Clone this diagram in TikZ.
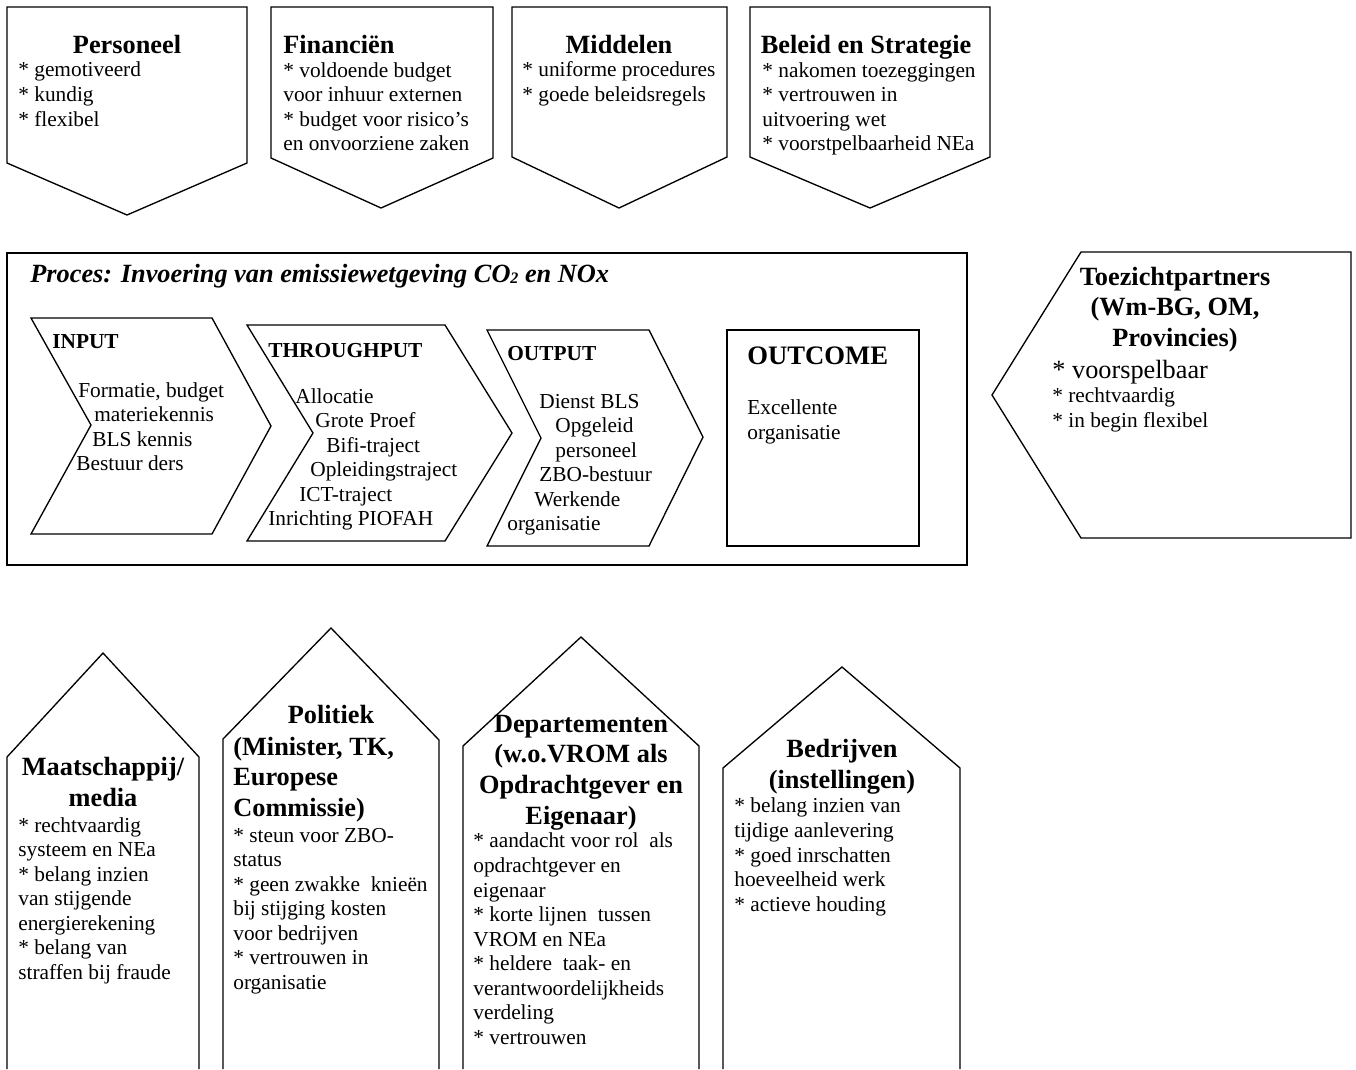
\documentclass[tikz,border=0pt]{standalone}
\usepackage{fontspec}
\setmainfont{Liberation Serif}
\begin{document}
\begin{tikzpicture}[x=0.5625pt,y=-0.5625pt,
  shp/.style={draw=black,line width=0.75pt,line join=miter},
  procbox/.style={draw=black,line width=1.3pt},
  body/.style={inner sep=0pt,align=left,font=\fontsize{12pt}{13.8pt}\selectfont},
  head/.style={inner sep=0pt,align=center,font=\bfseries\fontsize{14.8pt}{17.4pt}\selectfont},
  headl/.style={inner sep=0pt,align=left,font=\bfseries\fontsize{14.8pt}{17.4pt}\selectfont},
  small/.style={inner sep=0pt,font=\bfseries\fontsize{12pt}{13.8pt}\selectfont},
  bl/.style={anchor=base west},
  bc/.style={anchor=base}]
\useasboundingbox[fill=white] (0,0) rectangle (1356,1069);
% note: for multi-line nodes the base anchor is the baseline of the LAST line

% ---------- top row (pointing down) ----------
\draw[shp] (7,7) -- (247,7) -- (247,163) -- (127,215) -- (7,163) -- cycle;
\draw[shp] (271,7) -- (493,7) -- (493,158) -- (381,208) -- (271,158) -- cycle;
\draw[shp] (512,7) -- (727,7) -- (727,157) -- (619,208) -- (512,157) -- cycle;
\draw[shp] (750,7) -- (990,7) -- (990,157) -- (870,208) -- (750,157) -- cycle;

\node[head,bc] (personeelT) at (127,53) {Personeel};
\node[body,bl] (personeelL) at (18,126) {* gemotiveerd\\* kundig\\* flexibel};
\node[headl,bl] (financienT) at (283,53) {Financiën};
\node[body,bl] (financienL) at (283,150.6) {* voldoende budget\\voor inhuur externen\\* budget voor risico’s\\en onvoorziene zaken};
\node[head,bc] (middelenT) at (619,53) {Middelen};
\node[body,bl] (middelenL) at (522,101.5) {* uniforme procedures\\* goede beleidsregels};
\node[head,bc] (beleidT) at (866,53) {Beleid en Strategie};
\node[body,bl] (beleidL) at (762,150.6) {* nakomen toezeggingen\\* vertrouwen in\\uitvoering wet\\* voorstpelbaarheid NEa};

% ---------- process box ----------
\draw[procbox] (7,253) rectangle (967,565);
\node[inner sep=0pt,bl,font=\bfseries\itshape\fontsize{14.8pt}{17pt}\selectfont] (procT) at (30,282)
  {Proces: Invoering van emissiewetgeving CO{\fontsize{9pt}{9pt}\selectfont\raisebox{-1pt}{2}} en NOx};

% INPUT chevron
\draw[shp] (31,318) -- (212,318) -- (271,426) -- (212,534) -- (31,534) -- (91,425) -- cycle;
\node[small,bl] (inputT) at (52,348) {INPUT};
\node[body,bl] (in1) at (78,397) {Formatie, budget};
\node[body,bl] (in2) at (94,421.5) {materiekennis};
\node[body,bl] (in3) at (92,446) {BLS kennis};
\node[body,bl] (in4) at (76,470.5) {Bestuur ders};

% THROUGHPUT chevron
\draw[shp] (247,325) -- (445,325) -- (512,433) -- (445,541) -- (247,541) -- (313,433) -- cycle;
\node[small,bl] (throughT) at (268,357) {THROUGHPUT};
\node[body,bl] (th1) at (295,403) {Allocatie};
\node[body,bl] (th2) at (315,427.5) {Grote Proef};
\node[body,bl] (th3) at (326,452) {Bifi-traject};
\node[body,bl] (th4) at (310,476.5) {Opleidingstraject};
\node[body,bl] (th5) at (299,501) {ICT-traject};
\node[body,bl] (th6) at (268,525.5) {Inrichting PIOFAH};

% OUTPUT chevron
\draw[shp] (487,330) -- (649,330) -- (703,437) -- (649,546) -- (487,546) -- (541,438) -- cycle;
\node[small,bl] (outputT) at (507,360) {OUTPUT};
\node[body,bl] (ou1) at (539,408) {Dienst BLS};
\node[body,bl] (ou2) at (555,432.5) {Opgeleid};
\node[body,bl] (ou3) at (555,457) {personeel};
\node[body,bl] (ou4) at (539,481.5) {ZBO-bestuur};
\node[body,bl] (ou5) at (534,506) {Werkende};
\node[body,bl] (ou6) at (507,530.5) {organisatie};

% OUTCOME box
\draw[shp] (727,330) rectangle (919,546);
\node[inner sep=0pt,bl,font=\bfseries\fontsize{15pt}{17pt}\selectfont] (outcomeT) at (747,364) {OUTCOME};
\node[body,bl] (outcomeL) at (747,439.5) {Excellente\\organisatie};

% ---------- Toezichtpartners (pointing left) ----------
\draw[shp] (992,395) -- (1081,252) -- (1351,252) -- (1351,538) -- (1081,538) -- cycle;
\node[head,bc] (toezichtT) at (1175,346.9) {Toezichtpartners\\(Wm-BG, OM,\\Provincies)};
\node[inner sep=0pt,bl,font=\fontsize{14.8pt}{17pt}\selectfont] (tz1) at (1052,378) {* voorspelbaar};
\node[body,bl] (tz2) at (1052,427.5) {* rechtvaardig\\* in begin flexibel};

% ---------- bottom row (pointing up) ----------
\draw[shp] (7,1069) -- (7,757) -- (103,653) -- (199,757) -- (199,1069);
\draw[shp] (223,1069) -- (223,739) -- (331,628) -- (439,740) -- (439,1069);
\draw[shp] (463,1069) -- (463,746) -- (581,637) -- (699,746) -- (699,1069);
\draw[shp] (723,1069) -- (723,768) -- (842,667) -- (960,768) -- (960,1069);

\node[head,bc] (maatT) at (103,806.9) {Maatschappij/\\media};
\node[body,bl] (maatL) at (18,979.2) {* rechtvaardig\\systeem en NEa\\* belang inzien\\van stijgende\\energierekening\\* belang van\\straffen bij fraude};

\node[head,bc] (polT) at (331,723) {Politiek};
\node[headl,bl] (polT2) at (233,816.9) {(Minister, TK,\\Europese\\Commissie)};
\node[body,bl] (polL) at (233,989.2) {* steun voor ZBO-\\status\\* geen zwakke\ \ knieën\\bij stijging kosten\\voor bedrijven\\* vertrouwen in\\organisatie};

\node[head,bc] (depT) at (581,824.8) {Departementen\\(w.o.VROM als\\Opdrachtgever en\\Eigenaar)};
\node[body,bl] (depL) at (473,1044.2) {* aandacht voor rol\ \ als\\opdrachtgever en\\eigenaar\\* korte lijnen\ \ tussen\\VROM en NEa\\* heldere\ \ taak- en\\verantwoordelijkheids\\verdeling\\* vertrouwen};

\node[head,bc] (bedT) at (842,788.9) {Bedrijven\\(instellingen)};
\node[body,bl] (bedL) at (734,911.1) {* belang inzien van\\tijdige aanlevering\\* goed inrschatten\\hoeveelheid werk\\* actieve houding};
\end{tikzpicture}
\end{document}
